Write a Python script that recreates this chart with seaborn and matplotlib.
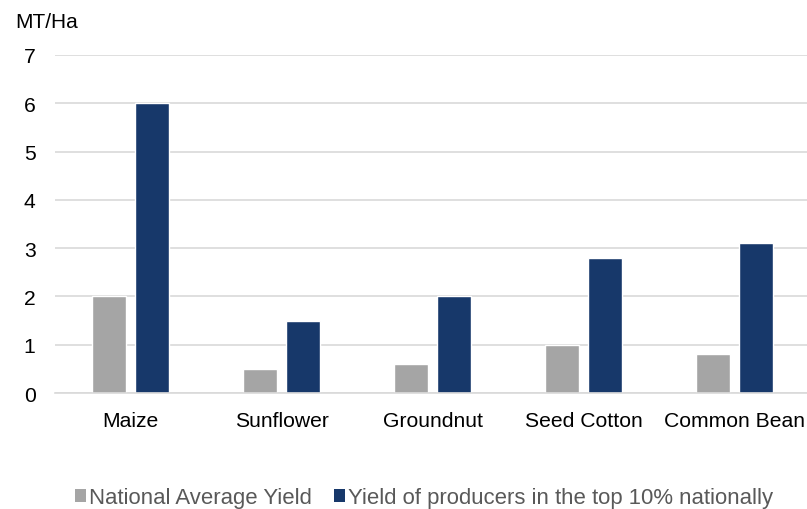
import matplotlib
matplotlib.use("Agg")
import matplotlib.pyplot as plt
from matplotlib.patches import Patch
import seaborn as sns
import pandas as pd

crops = ["Maize", "Sunflower", "Groundnut", "Seed Cotton", "Common Bean"]
national_avg = [2.0, 0.5, 0.6, 1.0, 0.8]
top_10pct = [6.0, 1.5, 2.0, 2.8, 3.1]
series_names = ["National Average Yield", "Yield of producers in the top 10% nationally"]
colors = ["#A5A5A5", "#17386A"]
y_ticks = [0, 1, 2, 3, 4, 5, 6, 7]

df = pd.DataFrame({
    "crop": crops * 2,
    "yield": national_avg + top_10pct,
    "series": [series_names[0]] * len(crops) + [series_names[1]] * len(crops),
})

sns.set_theme(style="white")
plt.rcParams["font.family"] = ["Liberation Sans", "DejaVu Sans"]

fig = plt.figure(figsize=(8.07, 5.10), dpi=100)
ax = fig.add_axes([55 / 807, 1 - 394 / 510, 752 / 807, 338 / 510])

sns.barplot(data=df, x="crop", y="yield", hue="series", order=crops,
            hue_order=series_names, palette=colors, width=0.57, gap=0.21,
            saturation=1, legend=False, ax=ax)

ax.set_ylim(0, 7)
ax.set_xlim(-0.5, 4.48)
ax.set_yticks(y_ticks)
ax.yaxis.grid(True, color="#D9D9D9", linewidth=1.2)
ax.set_axisbelow(True)
for s in ["top", "right", "left"]:
    ax.spines[s].set_visible(False)
ax.spines["bottom"].set_color("#D9D9D9")
ax.spines["bottom"].set_linewidth(1.2)
ax.tick_params(axis="y", length=0, pad=14, labelsize=15.2, labelcolor="#000000")
ax.tick_params(axis="x", length=0, pad=13, labelsize=15.2, labelcolor="#000000")
ax.set_xlabel("")
ax.set_ylabel("")

fig.text(15 / 807, 1 - 22 / 510, "MT/Ha", fontsize=15, va="center", ha="left", color="#000000")

handles = [Patch(facecolor=c, edgecolor="none") for c in colors]
fig.legend(handles, series_names, loc="center", bbox_to_anchor=(424 / 807, 1 - 499 / 510),
           ncol=2, frameon=False, fontsize=15.9, labelcolor="#595959",
           handlelength=0.5, handleheight=0.5, handletextpad=0.15,
           columnspacing=1.0, borderpad=0, borderaxespad=0)

fig.savefig("out.png", dpi=100)
